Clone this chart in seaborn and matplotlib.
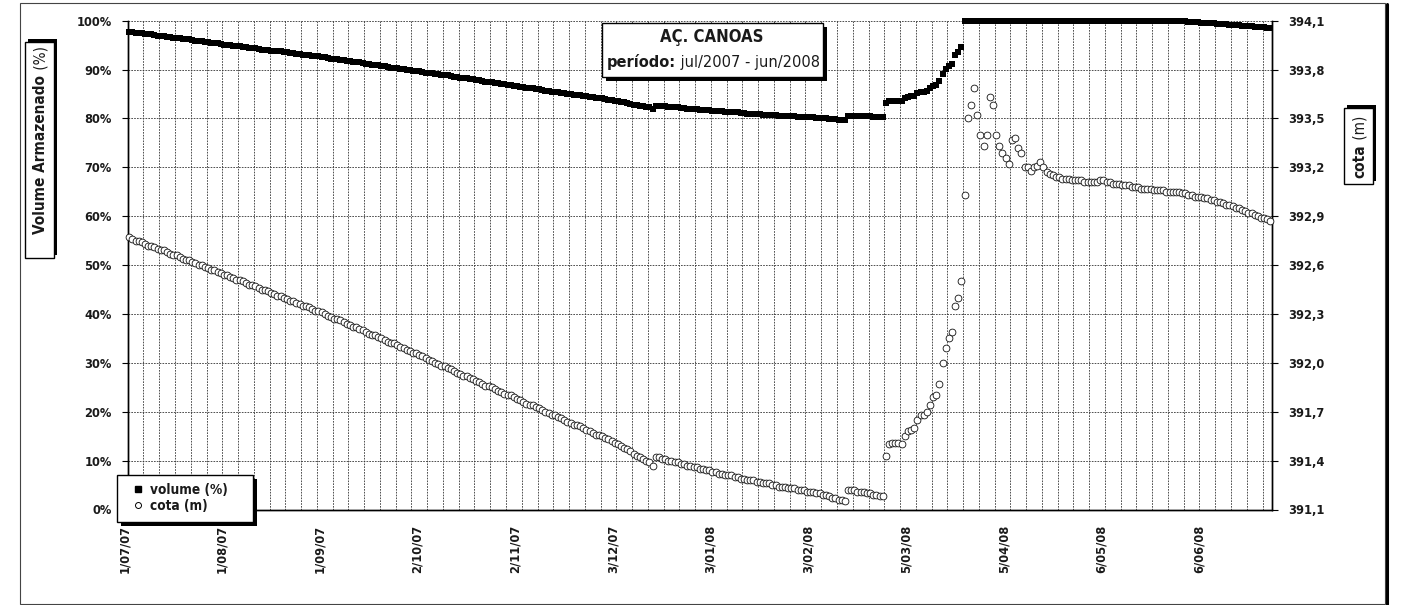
import matplotlib
matplotlib.use('Agg')

import matplotlib.pyplot as plt
import matplotlib.dates as mdates
import matplotlib.patheffects as pe
import matplotlib.transforms as mtransforms
from matplotlib import font_manager
from matplotlib.lines import Line2D
from matplotlib.patches import Rectangle
import seaborn as sns
import pandas as pd
import numpy as np

# daily readings, 1/07/2007 .. 27/06/2008
first_day = '2007-07-01'

volume = [
    97.7, 97.6, 97.5, 97.5, 97.4, 97.3, 97.2, 97.2, 97.0, 96.9,
    96.8, 96.8, 96.7, 96.6, 96.5, 96.5, 96.4, 96.3, 96.2, 96.2,
    96.0, 95.9, 95.8, 95.8, 95.7, 95.6, 95.5, 95.5, 95.4, 95.3,
    95.1, 95.1, 95.0, 94.9, 94.8, 94.8, 94.7, 94.6, 94.5, 94.5,
    94.4, 94.3, 94.1, 94.1, 94.0, 93.9, 93.8, 93.7, 93.7, 93.6,
    93.5, 93.4, 93.4, 93.2, 93.1, 93.0, 93.0, 92.9, 92.8, 92.7,
    92.7, 92.6, 92.5, 92.3, 92.2, 92.1, 92.1, 92.0, 91.9, 91.8,
    91.7, 91.6, 91.6, 91.5, 91.3, 91.2, 91.1, 91.0, 91.0, 90.9,
    90.8, 90.7, 90.6, 90.4, 90.4, 90.3, 90.2, 90.1, 90.0, 89.9,
    89.8, 89.8, 89.7, 89.5, 89.4, 89.3, 89.2, 89.1, 89.0, 88.9,
    88.9, 88.8, 88.7, 88.5, 88.4, 88.3, 88.2, 88.2, 88.1, 88.0,
    87.9, 87.8, 87.6, 87.5, 87.5, 87.4, 87.3, 87.2, 87.1, 87.0,
    86.9, 86.9, 86.7, 86.6, 86.5, 86.4, 86.3, 86.2, 86.2, 86.1,
    86.0, 85.9, 85.7, 85.6, 85.5, 85.5, 85.4, 85.3, 85.2, 85.1,
    85.0, 84.8, 84.8, 84.7, 84.6, 84.5, 84.4, 84.3, 84.2, 84.2,
    84.1, 83.9, 83.8, 83.7, 83.6, 83.5, 83.4, 83.3, 83.2, 83.0,
    82.8, 82.7, 82.6, 82.5, 82.4, 82.3, 82.0, 82.6, 82.6, 82.5,
    82.5, 82.4, 82.4, 82.3, 82.3, 82.2, 82.2, 82.0, 82.0, 81.9,
    81.9, 81.8, 81.8, 81.7, 81.7, 81.6, 81.6, 81.5, 81.5, 81.4,
    81.4, 81.4, 81.3, 81.3, 81.1, 81.1, 81.0, 81.0, 81.0, 80.9,
    80.9, 80.8, 80.8, 80.8, 80.7, 80.7, 80.6, 80.6, 80.6, 80.5,
    80.5, 80.5, 80.4, 80.4, 80.4, 80.3, 80.3, 80.3, 80.1, 80.1,
    80.0, 80.0, 79.9, 79.8, 79.8, 79.7, 79.7, 79.6, 80.6, 80.6,
    80.6, 80.6, 80.5, 80.5, 80.5, 80.5, 80.4, 80.4, 80.4, 80.4,
    83.1, 83.5, 83.6, 83.6, 83.6, 83.5, 84.1, 84.4, 84.5, 84.6,
    85.2, 85.5, 85.5, 85.7, 86.2, 86.7, 86.9, 87.6, 89.1, 90.1,
    90.8, 91.2, 93.0, 93.6, 94.7, 100.0, 100.0, 100.0, 100.0, 100.0,
    100.0, 100.0, 100.0, 100.0, 100.0, 100.0, 100.0, 100.0, 100.0, 100.0,
    100.0, 100.0, 100.0, 100.0, 100.0, 100.0, 100.0, 100.0, 100.0, 100.0,
    100.0, 100.0, 100.0, 100.0, 100.0, 100.0, 100.0, 100.0, 100.0, 100.0,
    100.0, 100.0, 100.0, 100.0, 100.0, 100.0, 100.0, 100.0, 100.0, 100.0,
    100.0, 100.0, 100.0, 100.0, 100.0, 100.0, 100.0, 100.0, 100.0, 100.0,
    100.0, 100.0, 100.0, 100.0, 100.0, 100.0, 100.0, 100.0, 100.0, 100.0,
    100.0, 100.0, 100.0, 100.0, 99.9, 99.9, 99.8, 99.8, 99.7, 99.7,
    99.6, 99.6, 99.5, 99.5, 99.5, 99.4, 99.4, 99.3, 99.3, 99.2,
    99.2, 99.1, 99.1, 99.0, 99.0, 98.9, 98.9, 98.8, 98.8, 98.7,
    98.7, 98.6, 98.6,
]

cota = [
    392.77, 392.76, 392.75, 392.75, 392.74, 392.73, 392.72, 392.72, 392.71, 392.70,
    392.69, 392.69, 392.68, 392.67, 392.66, 392.66, 392.65, 392.64, 392.63, 392.63,
    392.62, 392.61, 392.60, 392.60, 392.59, 392.58, 392.57, 392.57, 392.56, 392.55,
    392.54, 392.54, 392.53, 392.52, 392.51, 392.51, 392.50, 392.49, 392.48, 392.48,
    392.47, 392.46, 392.45, 392.45, 392.44, 392.43, 392.42, 392.41, 392.41, 392.40,
    392.39, 392.38, 392.38, 392.37, 392.36, 392.35, 392.35, 392.34, 392.33, 392.32,
    392.32, 392.31, 392.30, 392.29, 392.28, 392.27, 392.27, 392.26, 392.25, 392.24,
    392.23, 392.22, 392.22, 392.21, 392.20, 392.19, 392.18, 392.17, 392.17, 392.16,
    392.15, 392.14, 392.13, 392.12, 392.12, 392.11, 392.10, 392.09, 392.08, 392.07,
    392.06, 392.06, 392.05, 392.04, 392.03, 392.02, 392.01, 392.00, 391.99, 391.98,
    391.98, 391.97, 391.96, 391.95, 391.94, 391.93, 391.92, 391.92, 391.91, 391.90,
    391.89, 391.88, 391.87, 391.86, 391.86, 391.85, 391.84, 391.83, 391.82, 391.81,
    391.80, 391.80, 391.79, 391.78, 391.77, 391.76, 391.75, 391.74, 391.74, 391.73,
    391.72, 391.71, 391.70, 391.69, 391.68, 391.68, 391.67, 391.66, 391.65, 391.64,
    391.63, 391.62, 391.62, 391.61, 391.60, 391.59, 391.58, 391.57, 391.56, 391.56,
    391.55, 391.54, 391.53, 391.52, 391.51, 391.50, 391.49, 391.48, 391.47, 391.46,
    391.44, 391.43, 391.42, 391.41, 391.40, 391.39, 391.37, 391.42, 391.42, 391.41,
    391.41, 391.40, 391.40, 391.39, 391.39, 391.38, 391.38, 391.37, 391.37, 391.36,
    391.36, 391.35, 391.35, 391.34, 391.34, 391.33, 391.33, 391.32, 391.32, 391.31,
    391.31, 391.31, 391.30, 391.30, 391.29, 391.29, 391.28, 391.28, 391.28, 391.27,
    391.27, 391.26, 391.26, 391.26, 391.25, 391.25, 391.24, 391.24, 391.24, 391.23,
    391.23, 391.23, 391.22, 391.22, 391.22, 391.21, 391.21, 391.21, 391.20, 391.20,
    391.19, 391.19, 391.18, 391.17, 391.17, 391.16, 391.16, 391.15, 391.22, 391.22,
    391.22, 391.21, 391.21, 391.21, 391.20, 391.20, 391.19, 391.19, 391.18, 391.18,
    391.43, 391.50, 391.51, 391.51, 391.51, 391.50, 391.55, 391.58, 391.59, 391.60,
    391.65, 391.68, 391.68, 391.70, 391.74, 391.79, 391.80, 391.87, 392.00, 392.09,
    392.15, 392.19, 392.35, 392.40, 392.50, 393.03, 393.50, 393.58, 393.69, 393.52,
    393.40, 393.33, 393.40, 393.63, 393.58, 393.40, 393.33, 393.29, 393.26, 393.22,
    393.37, 393.38, 393.32, 393.29, 393.20, 393.20, 393.18, 393.20, 393.21, 393.23,
    393.20, 393.17, 393.16, 393.15, 393.14, 393.14, 393.13, 393.13, 393.13, 393.12,
    393.12, 393.12, 393.12, 393.11, 393.11, 393.11, 393.11, 393.11, 393.12, 393.12,
    393.11, 393.11, 393.10, 393.10, 393.10, 393.09, 393.09, 393.09, 393.08, 393.08,
    393.08, 393.07, 393.07, 393.07, 393.07, 393.06, 393.06, 393.06, 393.06, 393.05,
    393.05, 393.05, 393.05, 393.05, 393.04, 393.04, 393.03, 393.03, 393.02, 393.02,
    393.02, 393.01, 393.01, 393.00, 393.00, 392.99, 392.99, 392.98, 392.97, 392.97,
    392.96, 392.95, 392.95, 392.94, 392.93, 392.92, 392.92, 392.91, 392.90, 392.89,
    392.89, 392.88, 392.87,
]

pct_ticks = [0, 10, 20, 30, 40, 50, 60, 70, 80, 90, 100]
cota_ticks = [391.1, 391.4, 391.7, 392.0, 392.3, 392.6, 392.9, 393.2, 393.5, 393.8, 394.1]
label_step = 31   # days between date labels
tick_step = 10    # days between tick marks
grid_step = 5     # days between vertical grid lines

sns.set_style('white')

# prefer a narrow face, the original uses a condensed sans
fam, stretch = 'DejaVu Sans', 'normal'
ttf = font_manager.fontManager.ttflist
if any(f.name == 'Liberation Sans Narrow' for f in ttf):
    fam = 'Liberation Sans Narrow'
else:
    for cand in ['DejaVu Sans', 'Noto Sans', 'Open Sans', 'Roboto', 'Liberation Sans']:
        if any(f.name == cand and 'condensed' in str(f.stretch) for f in ttf):
            fam, stretch = cand, 'condensed'
            break
plt.rcParams['font.family'] = [fam, 'DejaVu Sans']
plt.rcParams['font.stretch'] = stretch
ink = '#1a1a1a'

dias = pd.date_range(first_day, periods=len(cota), freq='D')
df = pd.DataFrame({'dia': dias, 'volume': volume, 'cota': cota})

W, H = 1410, 605
fig = plt.figure(figsize=(W / 100, H / 100), dpi=100)
rend = fig.canvas.get_renderer()


def fit(partes, target):
    # font size that makes the text as wide as in the picture
    w = 0
    for s, wt in partes:
        t = fig.text(0, 0, s, fontsize=10, fontweight=wt)
        w += t.get_window_extent(rend).width
        t.remove()
    return 10 * target / w


tick_fs = (fit([('100%', 'bold')], 37) + fit([('1/07/07', 'bold')], 47)) / 2
title_fs = fit([('AÇ. CANOAS', 'bold')], 103)
sub_fs = fit([('período:', 'bold'), (' jul/2007 - jun/2008', 'normal')], 213)
ylab_fs = fit([('Volume Armazenado', 'bold'), (' (%)', 'normal')], 185)
leg_fs = fit([('volume (%)', 'bold')], 78)

ax = fig.add_axes([127.7 / W, 1 - 509.5 / H, (1272 - 127.7) / W, (509.5 - 20.7) / H])
ax2 = ax.twinx()

sns.scatterplot(data=df, x='dia', y='volume', ax=ax, marker='s', color='black',
                s=20, linewidth=0, clip_on=False, zorder=3, legend=False)
sns.scatterplot(data=df, x='dia', y='cota', ax=ax2, marker='o', color='white',
                edgecolor='#111111', s=24, linewidth=0.6, clip_on=False, zorder=3,
                legend=False)

# category style x axis: one slot per day
x0 = mdates.date2num(dias[0]) - 0.5
x1 = mdates.date2num(dias[-1]) + 0.5
ax.set_xlim(x0, x1)
grid_pos = x0 + np.arange(0, len(cota), grid_step)
ax.set_xticks(grid_pos, [''] * len(grid_pos))
lab_days = dias[::label_step]
lab_txt = [f'{d.day}/{d.month:02d}/{d.year % 100:02d}' for d in lab_days]
ax.set_xticks(mdates.date2num(lab_days), lab_txt, minor=True, rotation=90,
              fontweight='bold', fontsize=tick_fs, color=ink)

ax.set_ylim(0, 100)
ax.set_yticks(pct_ticks, [f'{v}%' for v in pct_ticks], fontweight='bold',
              fontsize=tick_fs, color=ink)
ax2.set_ylim(cota_ticks[0], cota_ticks[-1])
ax2.set_yticks(cota_ticks, [f'{v:.1f}'.replace('.', ',') for v in cota_ticks],
               fontweight='bold', fontsize=tick_fs, color=ink)
ax.set_xlabel('')
ax.set_ylabel('')
ax2.set_ylabel('')

dash = (0, (2, 1.4))
ax.grid(True, axis='x', which='major', linestyle=dash, color='#333333', linewidth=0.6)
ax.grid(True, axis='y', which='major', linestyle=dash, color='#333333', linewidth=0.6)
ax.tick_params(axis='x', which='major', direction='inout', length=6, width=0.8, color='black')
ax.tick_params(axis='x', which='minor', length=0, pad=11)
ax.tick_params(axis='y', direction='out', length=4, width=0.8, color='black', pad=7.5)
ax2.tick_params(axis='y', direction='out', length=4, width=0.8, color='black', pad=8)
for side in ['left', 'right', 'bottom']:
    ax.spines[side].set_color('black')
    ax.spines[side].set_linewidth(1)
    ax2.spines[side].set_color('black')
    ax2.spines[side].set_linewidth(1)
ax.spines['top'].set_visible(False)
ax2.spines['top'].set_visible(False)

# tick marks only every 10 days, grid every 5
for i, t in enumerate(ax.xaxis.get_major_ticks()):
    if (i * grid_step) % tick_step:
        t.tick1line.set_markersize(0)
shift = mtransforms.ScaledTranslation(-5 / 100, 0, fig.dpi_scale_trans)
for lbl in ax.get_xticklabels(minor=True):
    lbl.set_transform(lbl.get_transform() + shift)

ident = mtransforms.IdentityTransform()
shadow_dr = [pe.withSimplePatchShadow(offset=(3, -3), shadow_rgbFace='black', alpha=1)]
shadow_ur = [pe.withSimplePatchShadow(offset=(2.5, 2.5), shadow_rgbFace='black', alpha=1)]


def caixa(bx0, by0, bx1, by1, efeito):
    # box given in pixels from the top-left corner
    fig.add_artist(Rectangle((bx0, H - by1), bx1 - bx0, by1 - by0, transform=ident,
                             facecolor='white', edgecolor='black', linewidth=1,
                             path_effects=efeito, zorder=6))


def rotulo(cx, cy, partes, size, vertical=False):
    ts = []
    for s, w in partes:
        ts.append(fig.text(0, 0, s, transform=ident, fontsize=size, fontweight=w,
                           rotation=90 if vertical else 0, rotation_mode='anchor',
                           ha='left', va='baseline', color=ink, zorder=7))
    ext = [t.get_window_extent(rend) for t in ts]
    cy = H - cy
    if vertical:
        lens = [e.y1 - e.y0 for e in ext]
        mid = (min(e.x0 for e in ext) + max(e.x1 for e in ext)) / 2
        pos = cy - sum(lens) / 2
        for t, n in zip(ts, lens):
            t.set_position((cx - mid, pos))
            pos += n
    else:
        lens = [e.x1 - e.x0 for e in ext]
        mid = (min(e.y0 for e in ext) + max(e.y1 for e in ext)) / 2
        pos = cx - sum(lens) / 2
        for t, n in zip(ts, lens):
            t.set_position((pos, cy - mid))
            pos += n


# outer chart frame
fig.add_artist(Rectangle((20, H - 604), 1365, 601, transform=ident, fill=False,
                         edgecolor='#444444', linewidth=0.8, zorder=0.5))
fig.add_artist(Line2D([1386.5, 1386.5], [H - 604, H - 4], transform=ident,
                      color='black', linewidth=2.2, zorder=0.5))

caixa(602, 23, 823, 77, shadow_dr)
rotulo(711.5, 37, [('AÇ. CANOAS', 'bold')], title_fs)
rotulo(713, 62, [('período:', 'bold'), (' jul/2007 - jun/2008', 'normal')], sub_fs)

caixa(25, 42, 54, 258, shadow_ur)
rotulo(41, 140, [('Volume Armazenado', 'bold'), (' (%)', 'normal')], ylab_fs, vertical=True)
caixa(1344, 108, 1373, 184, shadow_ur)
rotulo(1360, 146.5, [('cota', 'bold'), (' (m)', 'normal')], ylab_fs, vertical=True)

# legend: framed box like the original, entries placed inside it
caixa(117, 475, 253, 522, shadow_dr)
handles = [Line2D([], [], marker='s', color='black', ls='', markersize=4.2),
           Line2D([], [], marker='o', mfc='white', mec='black', ls='', markersize=4.3, mew=0.7)]
leg = fig.legend(handles, ['volume (%)', 'cota (m)'], loc='center left',
                 bbox_to_anchor=(133 / W, 1 - 498 / H), frameon=False,
                 borderpad=0, labelspacing=0.18, handlelength=0.8, handletextpad=0.45,
                 borderaxespad=0, prop={'weight': 'bold', 'size': leg_fs})
leg.set_zorder(8)
for t in leg.get_texts():
    t.set_color(ink)

fig.savefig('out.png', dpi=100)
